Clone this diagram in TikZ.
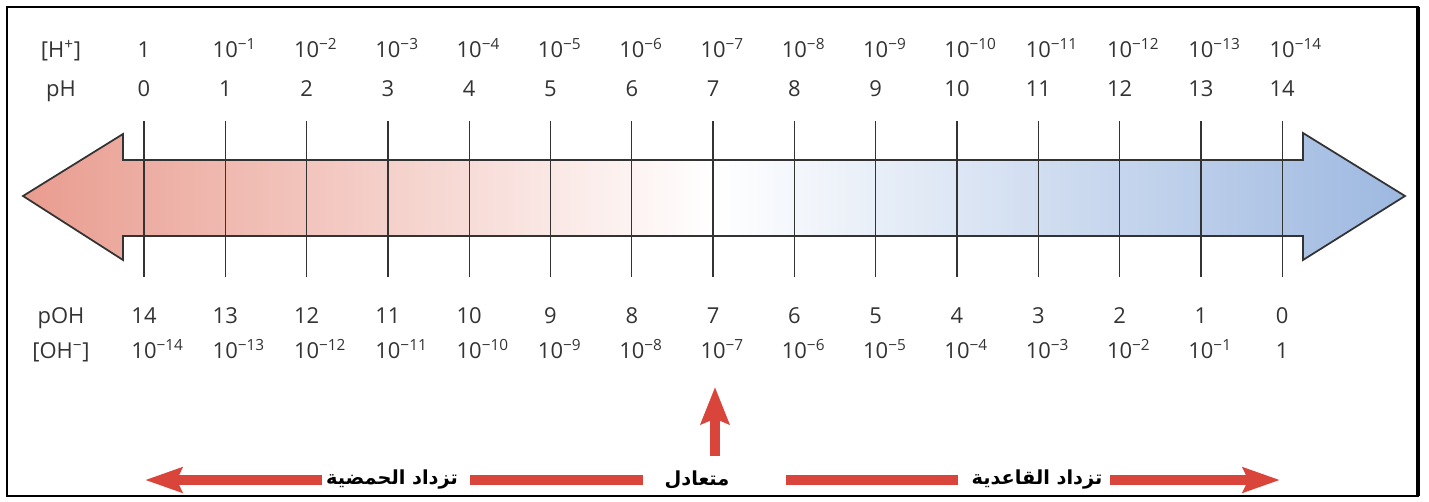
\documentclass[tikz,border=0pt]{standalone}
\usepackage{fontspec}
\setmainfont{Open Sans}
\newfontfamily\arabicfont[Script=Arabic]{DejaVu Sans}
\TeXXeTstate=1
\usetikzlibrary{arrows.meta, positioning, calc}
\usepackage{xcolor}
\definecolor{acidred}{HTML}{E99C8F}
\definecolor{baseblue}{HTML}{9DB8E0}
\definecolor{markred}{HTML}{D9443B}
\definecolor{scaledark}{HTML}{333333}

\begin{document}
\begin{tikzpicture}[
  x=0.02cm, y=-0.02cm,
  scalelabel/.style={
    font=\fontsize{12.5}{14}\selectfont, text=scaledark,
    inner sep=1pt, anchor=base
  },
  tickline/.style={scaledark, line width=0.7pt},
  bandline/.style={scaledark, line width=1pt,
    left color=acidred, right color=baseblue, middle color=white},
  sidetext/.style={
    font=\arabicfont\bfseries\fontsize{11}{13}\selectfont,
    text=black, inner sep=2pt, minimum height=0.4cm
  },
  redbar/.style={markred, line width=5.7pt},
  redarr/.style={redbar, -{Stealth[length=21pt, width=14pt, inset=3pt]}},
  uparr/.style={redbar, -{Stealth[length=21pt, width=16pt, inset=3pt]}}
]
  \useasboundingbox (0,0) rectangle (1429,501);

  % frame
  \draw[line width=0.9pt] (7,7) rectangle (1418,496);
  \draw[line width=1.8pt] (1418,7) -- (1418,496);

  % shaded double arrow
  \draw[bandline] (23,196) -- (123,134) -- (123,160) -- (1303,160)
    -- (1303,133) -- (1405,196) -- (1303,260) -- (1303,236)
    -- (123,236) -- (123,260) -- cycle;

  % row headers
  \node[scalelabel] (hlabel)   at (61,57)  {[H\textsuperscript{+}]};
  \node[scalelabel] (phlabel)  at (61,96)  {pH};
  \node[scalelabel] (pohlabel) at (61,323) {pOH};
  \node[scalelabel] (ohlabel)  at (61,358) {[OH\textsuperscript{−}]};

  % ticks and values
  \foreach \i in {0,...,14} {
    \pgfmathsetmacro\xx{144+81.3*\i}
    \pgfmathtruncatemacro\ohval{14-\i}
    \draw[tickline] (\xx,121) -- (\xx,277);
    \node[scalelabel] (hconc-\i) at (\xx,57)
      {\ifnum\i=0 1\else 10\rlap{\textsuperscript{−\i}}\fi};
    \node[scalelabel] (ph-\i) at (\xx,96) {\i};
    \node[scalelabel] (poh-\i) at (\xx,323) {\ohval};
    \node[scalelabel] (ohconc-\i) at (\xx,358)
      {\ifnum\ohval=0 1\else 10\rlap{\textsuperscript{−\ohval}}\fi};
  }

  % acid / neutral / base
  \node[sidetext, minimum width=2.8cm] (acid) at (392,480) {\beginR تزداد الحمضية\endR};
  \node[sidetext, minimum width=1.28cm] (neutral) at (697,480) {\beginR متعادل\endR};
  \node[sidetext, minimum width=2.68cm] (base) at (1037,480) {\beginR تزداد القاعدية\endR};
  \coordinate (acidtip) at (145,480);
  \coordinate (basetip) at (1280,480);
  \coordinate (neutraltip) at (715,387);

  \draw[redarr] (acid) -- (acidtip);
  \draw[redbar, shorten <=4.5pt, shorten >=10pt] (acid) -- (neutral);
  \draw[redbar, shorten <=30pt, shorten >=5.7pt] (neutral) -- (base);
  \draw[redarr, shorten <=2pt] (base) -- (basetip);
  \draw[uparr, shorten <=6pt] (neutraltip |- neutral.north) -- (neutraltip);
\end{tikzpicture}
\end{document}
